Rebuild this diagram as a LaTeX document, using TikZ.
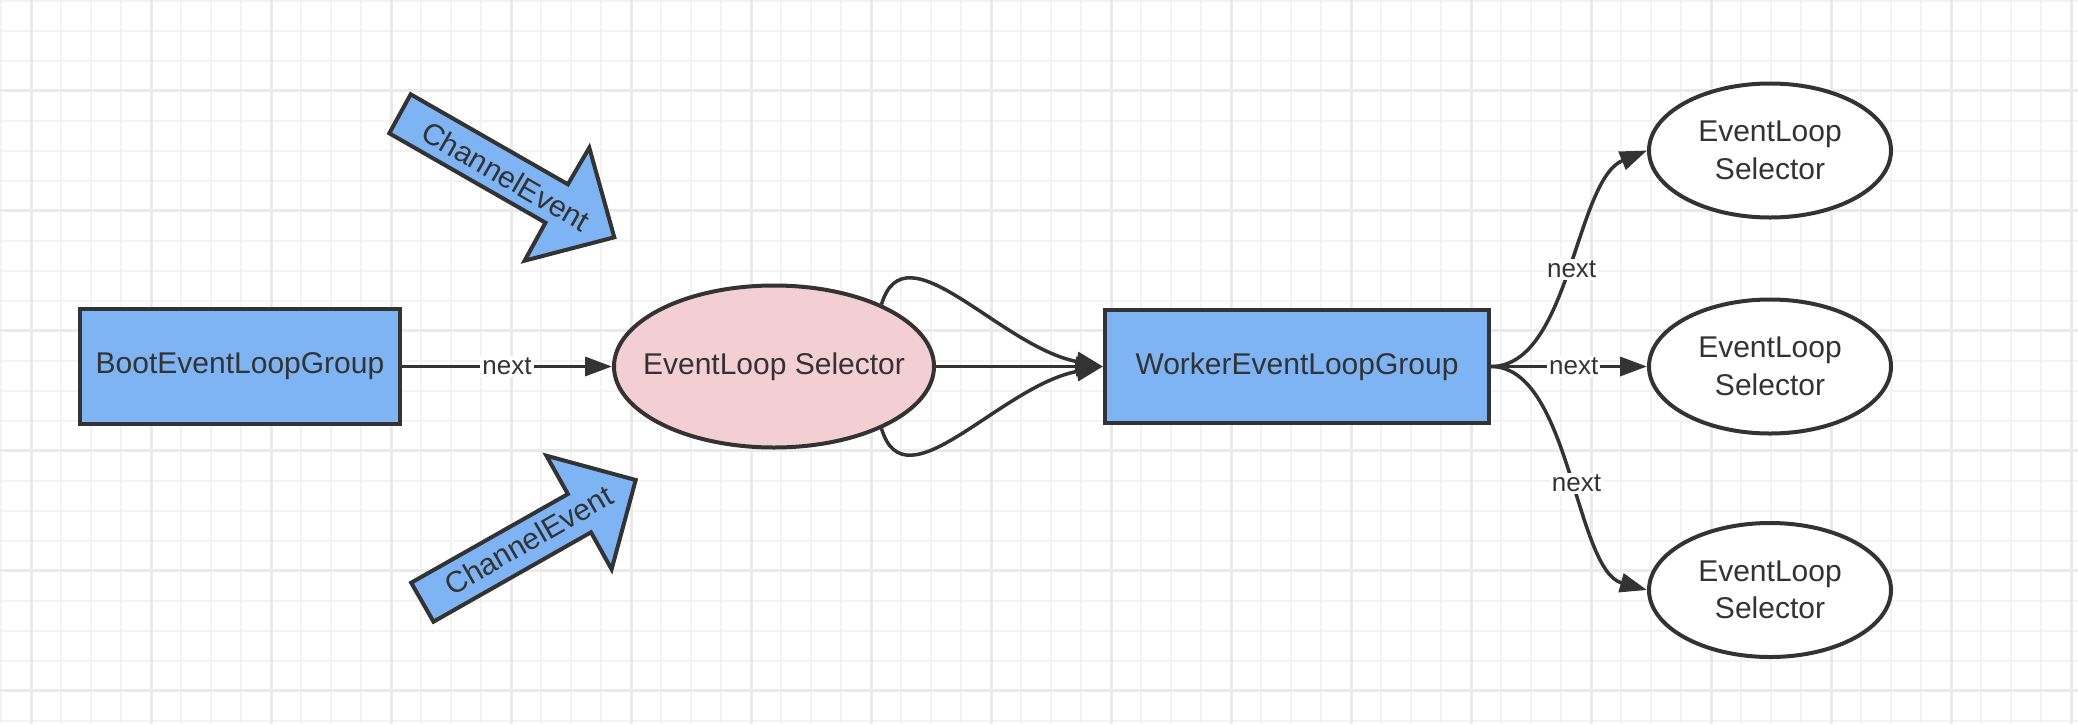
\documentclass[tikz,border=0pt]{standalone}
\usepackage{fontspec}
\setmainfont{Liberation Sans}
\usetikzlibrary{arrows.meta,shapes.geometric}
\definecolor{strokec}{HTML}{333333}
\definecolor{boxblue}{HTML}{7EB4F3}
\definecolor{pinkfill}{HTML}{F3CED3}
\definecolor{gridminor}{HTML}{F3F3F3}
\definecolor{gridmajor}{HTML}{EAEAEA}
\begin{document}
\begin{tikzpicture}[x=0.5pt,y=-0.5pt,
  txt/.style={text=strokec,font=\fontsize{15}{18.75}\selectfont},
  bluebox/.style={txt,draw=strokec,fill=boxblue,line width=2pt,inner sep=0pt,rectangle},
  pinkell/.style={txt,draw=strokec,fill=pinkfill,line width=2pt,inner xsep=-12pt,inner ysep=0pt,ellipse},
  whiteell/.style={txt,draw=strokec,fill=white,line width=2pt,inner sep=0pt,ellipse,align=center,minimum width=121pt,minimum height=67pt},
  edge/.style={draw=strokec,line width=1.75pt,-{Triangle[length=13.5pt,width=9.5pt]}},
  lbl/.style={fill=white,text=strokec,inner sep=1pt,font=\fontsize{13}{15}\selectfont},
  bigarrow/.style={draw=strokec,fill=boxblue,line width=2pt,line join=miter},
  arrowtxt/.style={txt}
]
\useasboundingbox (0,0) rectangle (2078,724);
\fill[white] (0,0) rectangle (2078,724);
% grid
\foreach \x in {1,31,...,2078} \draw[gridminor,line width=1pt] (\x,0) -- (\x,724);
\foreach \y in {0.5,30.5,...,724} \draw[gridminor,line width=1pt] (0,\y) -- (2078,\y);
\foreach \x in {31,151,...,2078} \draw[gridmajor,line width=1.5pt] (\x,0) -- (\x,724);
\foreach \y in {90.5,210.5,...,724} \draw[gridmajor,line width=1.5pt] (0,\y) -- (2078,\y);

% ChannelEvent arrows
\draw[bigarrow] (410.7,94.3) -- (567.9,184.3) -- (589.3,147.7) -- (614.3,237.3) -- (524.6,260.7) -- (545.5,222.7) -- (389.3,133.3) -- cycle;
\node[arrowtxt,rotate=-30] (ce1) at (506,176) {ChannelEvent};
\draw[bigarrow] (433.5,621.7) -- (591,532.3) -- (611.6,569.3) -- (635.7,480) -- (546.4,455.7) -- (567.9,494) -- (411.2,582.7) -- cycle;
\node[arrowtxt,rotate=30] (ce2) at (528.5,540) {ChannelEvent};

% nodes
\node[bluebox,minimum width=160pt,minimum height=57.5pt] (boot) at (240,366.5) {BootEventLoopGroup};
\node[pinkell,minimum width=160pt,minimum height=81pt] (sel) at (774,366.5) {EventLoop Selector};
\node[bluebox,minimum width=192pt,minimum height=56.5pt] (worker) at (1297,366.5) {WorkerEventLoopGroup};
\node[whiteell] (e1) at (1770,150.5) {EventLoop\\Selector};
\node[whiteell] (e2) at (1770,366.5) {EventLoop\\Selector};
\node[whiteell] (e3) at (1770,590) {EventLoop\\Selector};

% edges
\draw[edge] (boot) -- node[lbl]{next} (sel);
\draw[edge] (sel.30) .. controls (905,225) and (1000,347) .. (worker.west);
\draw[edge] (sel.-30) .. controls (905,508) and (1000,386) .. (worker.west);
\draw[edge] (sel) -- (worker);
\draw[edge] (worker.east) .. controls (1570,366.5) and (1575,180) .. node[lbl,pos=0.5]{next} (e1.west);
\draw[edge] (worker.east) -- node[lbl,pos=0.53]{next} (e2.west);
\draw[edge] (worker.east) .. controls (1570,366.5) and (1575,570) .. node[lbl,pos=0.54]{next} (e3.west);
\end{tikzpicture}
\end{document}
